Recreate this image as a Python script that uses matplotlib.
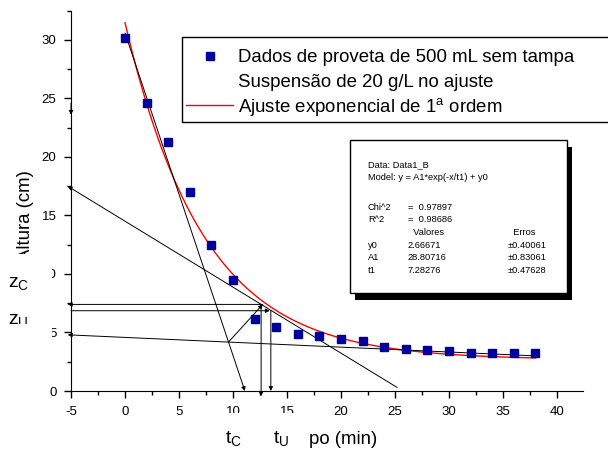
import numpy as np
import matplotlib
matplotlib.use("Agg")
import matplotlib.pyplot as plt
from matplotlib.patches import Rectangle
from matplotlib.lines import Line2D
from matplotlib.ticker import MultipleLocator

plt.rcParams['font.family'] = ['Liberation Sans', 'DejaVu Sans']
plt.rcParams['mathtext.fontset'] = 'custom'
plt.rcParams['mathtext.rm'] = 'Liberation Sans'
plt.rcParams['mathtext.it'] = 'Liberation Sans:italic'
plt.rcParams['axes.unicode_minus'] = False

# measured data (tempo em min, altura em cm)
tempo = [0, 2, 4, 6, 8, 10, 12, 14, 16, 18, 20, 22, 24, 26, 28, 30, 32, 34, 36, 38]
altura = [30.2, 24.6, 21.3, 17.0, 12.5, 9.5, 6.15, 5.47, 4.87, 4.7, 4.44, 4.3,
          3.79, 3.59, 3.5, 3.39, 3.27, 3.27, 3.27, 3.27]

# exponential fit parameters
y0, A1, t1 = 2.66671, 28.80716, 7.28276

# graphical construction (start, end) - arrow at end
construcao = [
    ((0, 30.6), (11.1, 0)),        # tangent at start
    ((25.2, 0.3), (-5.3, 17.5)),   # tangent at compression point
    ((38, 3.0), (-5.3, 4.8)),      # compression asymptote
    ((9.6, 4.2), (12.75, 7.4)),    # bisector
    ((12.75, 7.4), (-5.3, 7.4)),   # z_C
    ((-5, 6.86), (13.4, 6.86)),    # z_U
    ((12.6, 7.4), (12.6, -0.45)),  # t_C
    ((13.5, 6.86), (13.5, 0)),     # t_U
    ((-5, 24.6), (-5, 23.6)),
]

stats_lines = [
    ("Data: Data1_B", "", ""),
    ("Model: y = A1*exp(-x/t1) + y0", "", ""),
    ("Chi^2", "=  0.97897", ""),
    ("R^2", "=  0.98686", ""),
    ("", "  Valores", "  Erros"),
    ("y0", "2.66671", "\u00b10.40061"),
    ("A1", "28.80716", "\u00b10.83061"),
    ("t1", "7.28276", "\u00b10.47628"),
]

W, H = 608, 450
fig = plt.figure(figsize=(W / 100, H / 100), dpi=100)
ax = fig.add_axes([71 / W, 1 - 391 / H, 512 / W, 380.3 / H])


def px(x, y):
    return x / W, 1 - y / H


xs = np.linspace(0, 38, 300)
ax.plot(xs, A1 * np.exp(-xs / t1) + y0, color='red', lw=1.0, zorder=3)
ax.plot(tempo, altura, 's', color='#00009c', ms=6, zorder=4)

for (x0, ya), (x1, yb) in construcao:
    ax.annotate('', xy=(x1, yb), xytext=(x0, ya), annotation_clip=False,
                arrowprops=dict(arrowstyle='-|>', color='black', lw=0.7,
                                mutation_scale=6, shrinkA=0, shrinkB=0))

ax.set_xlim(-5, 42.4)
ax.set_ylim(0, 32.5)
ax.spines['top'].set_visible(False)
ax.spines['right'].set_visible(False)
ax.xaxis.set_major_locator(MultipleLocator(5))
ax.xaxis.set_minor_locator(MultipleLocator(2.5))
ax.yaxis.set_major_locator(MultipleLocator(5))
ax.yaxis.set_minor_locator(MultipleLocator(2.5))
ax.tick_params(which='major', direction='out', length=5, width=1, labelsize=9.5, pad=5.5)
ax.tick_params(which='minor', direction='out', length=3, width=1)

ax.set_xlabel('Tempo (min)', fontsize=13.4)
ax.xaxis.set_label_coords(0.497, -0.105)
ax.set_ylabel('Altura (cm)', fontsize=13.4)
ax.yaxis.set_label_coords(-0.072, 0.46)

# legend box (runs off the right edge)
fig.add_artist(Rectangle(px(182, 122), 450 / W, 85 / H, transform=fig.transFigure,
                         facecolor='white', edgecolor='black', lw=1, zorder=5))
fig.add_artist(Line2D([210 / W], [1 - 56 / H], marker='s', color='#00009c', ms=6,
                      transform=fig.transFigure, zorder=6))
fig.add_artist(Line2D([186 / W, 233 / W], [1 - 105 / H] * 2, color='red', lw=1,
                      transform=fig.transFigure, zorder=6))
for y, s in [(62, 'Dados de proveta de 500 mL sem tampa'),
             (87, 'Suspensão de 20 g/L no ajuste'),
             (112, 'Ajuste exponencial de 1$^{\\mathrm{a}}$ ordem')]:
    fig.text(*px(238, y), s, fontsize=13.4, va='baseline', zorder=7)

# fit statistics box with shadow
fig.add_artist(Rectangle(px(355, 300), 217 / W, 153 / H, transform=fig.transFigure,
                         facecolor='black', edgecolor='black', lw=0, zorder=5))
fig.add_artist(Rectangle(px(350, 293), 217 / W, 153 / H, transform=fig.transFigure,
                         facecolor='white', edgecolor='black', lw=1, zorder=6))
baselines = [167, 180, 210, 222.5, 235, 248, 260.5, 273]
for yb, (a, b, c) in zip(baselines, stats_lines):
    fig.text(*px(368, yb), a, fontsize=6.7, va='baseline', zorder=7)
    fig.text(*px(408, yb), b, fontsize=6.7, va='baseline', zorder=7)
    fig.text(*px(508, yb), c, fontsize=6.7, va='baseline', zorder=7)

# white label boxes hiding parts of the axis text
fig.add_artist(Rectangle(px(0, 293), 52 / W, 39 / H, transform=fig.transFigure,
                         facecolor='white', lw=0, zorder=8))
fig.text(*px(8, 287), r'$\mathrm{z}_\mathrm{C}$', fontsize=14, va='baseline', zorder=9)
fig.text(*px(8, 324), r'$\mathrm{z}_\mathrm{U}$', fontsize=14, va='baseline', zorder=9)
fig.add_artist(Rectangle(px(0, 342), 52 / W, 18 / H, transform=fig.transFigure,
                         facecolor='white', lw=0, zorder=10))
fig.add_artist(Rectangle(px(215, 450), 94 / W, 37 / H, transform=fig.transFigure,
                         facecolor='white', lw=0, zorder=8))
fig.text(*px(225, 443), r'$\mathrm{t}_\mathrm{C}$', fontsize=14, va='baseline', zorder=9)
fig.text(*px(273, 443), r'$\mathrm{t}_\mathrm{U}$', fontsize=14, va='baseline', zorder=9)

fig.savefig('out.png', dpi=100)
